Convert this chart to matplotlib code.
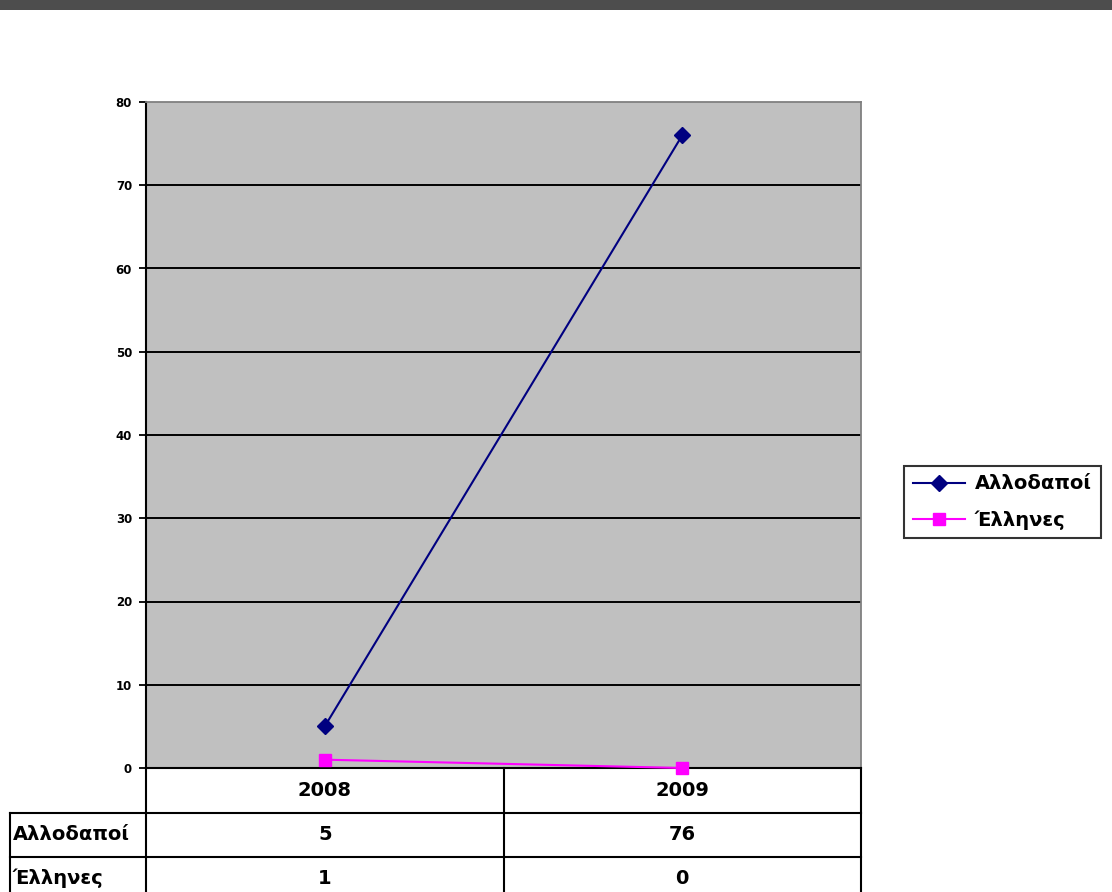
import matplotlib
matplotlib.use("Agg")
import matplotlib.pyplot as plt
from matplotlib.lines import Line2D
from matplotlib.patches import Rectangle
from matplotlib.transforms import blended_transform_factory

plt.rcParams["font.family"] = ["DejaVu Sans"]
plt.rcParams["font.weight"] = "bold"

# data
years = ["2008", "2009"]
series_names = ["Αλλοδαποί", "Έλληνες"]
allodapoi = [5, 76]
ellines = [1, 0]
yticks = [0, 10, 20, 30, 40, 50, 60, 70, 80]

W, H = 1112, 892
fig = plt.figure(figsize=(W / 100, H / 100), dpi=100)

# dark strip at the top
fig.add_artist(Rectangle((0, 1 - 10 / H), 1, 10 / H, transform=fig.transFigure,
                         facecolor="#4D4D4D", edgecolor="none"))

ax = fig.add_axes([146 / W, 1 - 768 / H, (861 - 146) / W, (768 - 102) / H])
ax.set_facecolor("#C0C0C0")

x = list(range(len(years)))
ax.plot(x, allodapoi, color="#000080", lw=1.5, marker="D", markersize=8,
        label=series_names[0], clip_on=False, zorder=3)
ax.plot(x, ellines, color="#FF00FF", lw=1.5, marker="s", markersize=9,
        label=series_names[1], clip_on=False, zorder=3)

ax.set_xlim(-0.5, 1.5)
ax.set_ylim(0, 80)
ax.set_yticks(yticks)
ax.set_yticklabels([str(t) for t in yticks], fontsize=8.5, fontweight="bold")
ax.set_xticks([])
ax.tick_params(axis="y", direction="out", length=5, width=1.3, pad=5)
for t in yticks[1:-1]:
    ax.axhline(t, color="black", lw=1.4, zorder=1)

ax.spines["left"].set_linewidth(1.5)
ax.spines["bottom"].set_linewidth(1.5)
for s in ["top", "right"]:
    ax.spines[s].set_color("#808080")
    ax.spines[s].set_linewidth(1.3)

# legend
leg = ax.legend(loc="center left", bbox_to_anchor=(904 / W, 1 - 502 / H),
                bbox_transform=fig.transFigure, frameon=True, fancybox=False,
                edgecolor="black", prop={"weight": "bold", "size": 14},
                handlelength=2.7, borderpad=0.45, labelspacing=0.85,
                handletextpad=0.5, borderaxespad=0)
leg.get_frame().set_linewidth(1.5)

# data table under the plot
tr = blended_transform_factory(ax.transData, fig.transFigure)
ftr = fig.transFigure


def fy(py):
    return 1 - py / H


lw = 1.5
rows = [(768, 813), (813, 857), (857, 901)]
# vertical lines (column boundaries in data coords)
for xb in [-0.5, 0.5, 1.5]:
    fig.add_artist(Line2D([xb, xb], [fy(768), fy(892)], transform=tr, color="black", lw=lw))
# horizontal lines
for py in [813, 857]:
    fig.add_artist(Line2D([10 / W, 861 / W], [fy(py), fy(py)], transform=ftr, color="black", lw=lw))
fig.add_artist(Line2D([10 / W, 10 / W], [fy(813), fy(892)], transform=ftr, color="black", lw=lw))

for i, yr in enumerate(years):
    fig.text(i, fy(sum(rows[0]) / 2), yr, transform=tr, ha="center", va="center",
             fontsize=14, fontweight="bold")
for r, (name, vals) in enumerate(zip(series_names, [allodapoi, ellines])):
    yc = fy((rows[r + 1][0] + rows[r + 1][1]) / 2 - 1)
    fig.text(13 / W, yc, name, transform=ftr, ha="left", va="center",
             fontsize=14, fontweight="bold")
    for i, v in enumerate(vals):
        fig.text(i, yc, str(v), transform=tr, ha="center", va="center",
                 fontsize=14, fontweight="bold")

fig.savefig("out.png", dpi=100)
